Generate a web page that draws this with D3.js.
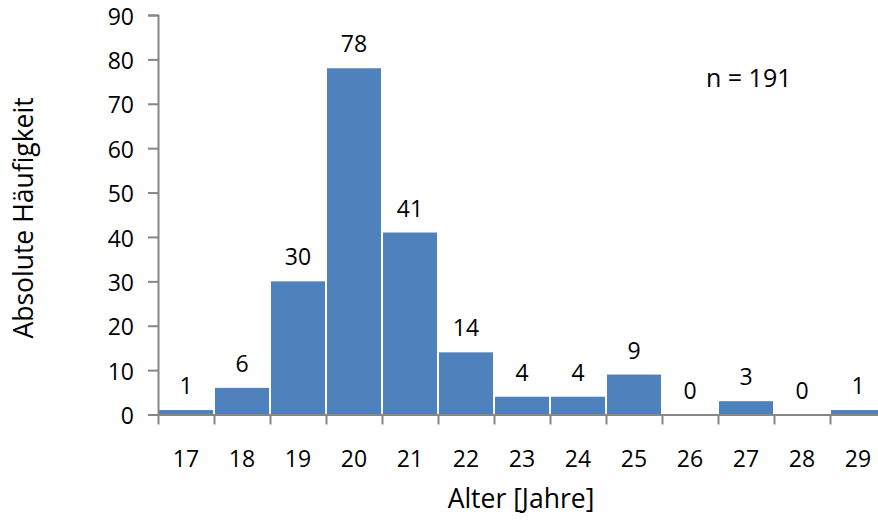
<!DOCTYPE html>
<html>
<head>
<meta charset="utf-8">
<script src="https://cdn.jsdelivr.net/npm/d3@7"></script>
<style>
  html, body { margin: 0; padding: 0; background: #fff; }
  svg { display: block; }
  text { font-family: "Open Sans", sans-serif; fill: #000; }
</style>
</head>
<body>
<svg id="chart" width="878" height="529"></svg>
<script>
const categories = ["17","18","19","20","21","22","23","24","25","26","27","28","29"];
const values = [1, 6, 30, 78, 41, 14, 4, 4, 9, 0, 3, 0, 1];
const yTicks = [0, 10, 20, 30, 40, 50, 60, 70, 80, 90];
const yTitle = "Absolute Häufigkeit";
const xTitle = "Alter [Jahre]";
const note = "n = 191";

const svg = d3.select("#chart");
const left = 158, bandW = 56;
const x = d3.scaleBand().domain(categories).range([left, left + bandW * categories.length]).padding(0);
const y = d3.scaleLinear().domain([0, 90]).range([414.5, 15]);
const axisColor = "#868686";
const fs = 23;
const fsTitle = 26.5;
const ff = "'Open Sans', sans-serif";

// bars
svg.append("g").selectAll("rect").data(values).join("rect")
  .attr("x", (d, i) => x(categories[i]) + 1)
  .attr("width", x.bandwidth() - 2)
  .attr("y", d => y(d))
  .attr("height", d => y(0) - y(d))
  .attr("fill", "#4F81BD");

// value labels
svg.append("g").selectAll("text").data(values).join("text")
  .attr("x", (d, i) => x(categories[i]) + x.bandwidth() / 2)
  .attr("y", d => y(d) - 16)
  .attr("text-anchor", "middle")
  .style("font-size", fs + "px")
  .text(d => d);

// y axis
const yAxis = svg.append("g").attr("transform", `translate(${left},0)`)
  .call(d3.axisLeft(y).tickValues(yTicks).tickSize(10).tickPadding(14));
yAxis.select(".domain").attr("stroke", axisColor).attr("stroke-width", 2);
yAxis.selectAll(".tick line").attr("stroke", axisColor).attr("stroke-width", 2);
yAxis.selectAll(".tick text").style("font-size", fs + "px").style("font-family", ff).attr("fill", "#000").attr("dy", "0.4em");

// x axis: boundary ticks
const xb = d3.scaleLinear().domain([0, categories.length]).range([left, left + bandW * categories.length]);
const xAxisTicks = svg.append("g").attr("transform", `translate(0,${y(0)})`)
  .call(d3.axisBottom(xb).tickValues(d3.range(0, categories.length + 1)).tickSize(10).tickSizeOuter(0).tickFormat(""));
xAxisTicks.select(".domain").attr("stroke", axisColor).attr("stroke-width", 2);
xAxisTicks.selectAll(".tick line").attr("stroke", axisColor).attr("stroke-width", 2);

// x labels
const xLab = svg.append("g").attr("transform", `translate(0,${y(0)})`)
  .call(d3.axisBottom(x).tickSize(0).tickPadding(36));
xLab.select(".domain").remove();
xLab.selectAll(".tick text").style("font-size", fs + "px").style("font-family", ff).attr("fill", "#000");

// titles
svg.append("text")
  .attr("transform", "translate(33,218) rotate(-90)")
  .attr("text-anchor", "middle")
  .style("font-size", fsTitle + "px")
  .text(yTitle);

svg.append("text")
  .attr("x", 521).attr("y", 508)
  .attr("text-anchor", "middle")
  .style("font-size", fsTitle + "px")
  .text(xTitle);

svg.append("text")
  .attr("x", 706).attr("y", 87)
  .style("font-size", "25px")
  .text(note);
</script>
</body>
</html>
